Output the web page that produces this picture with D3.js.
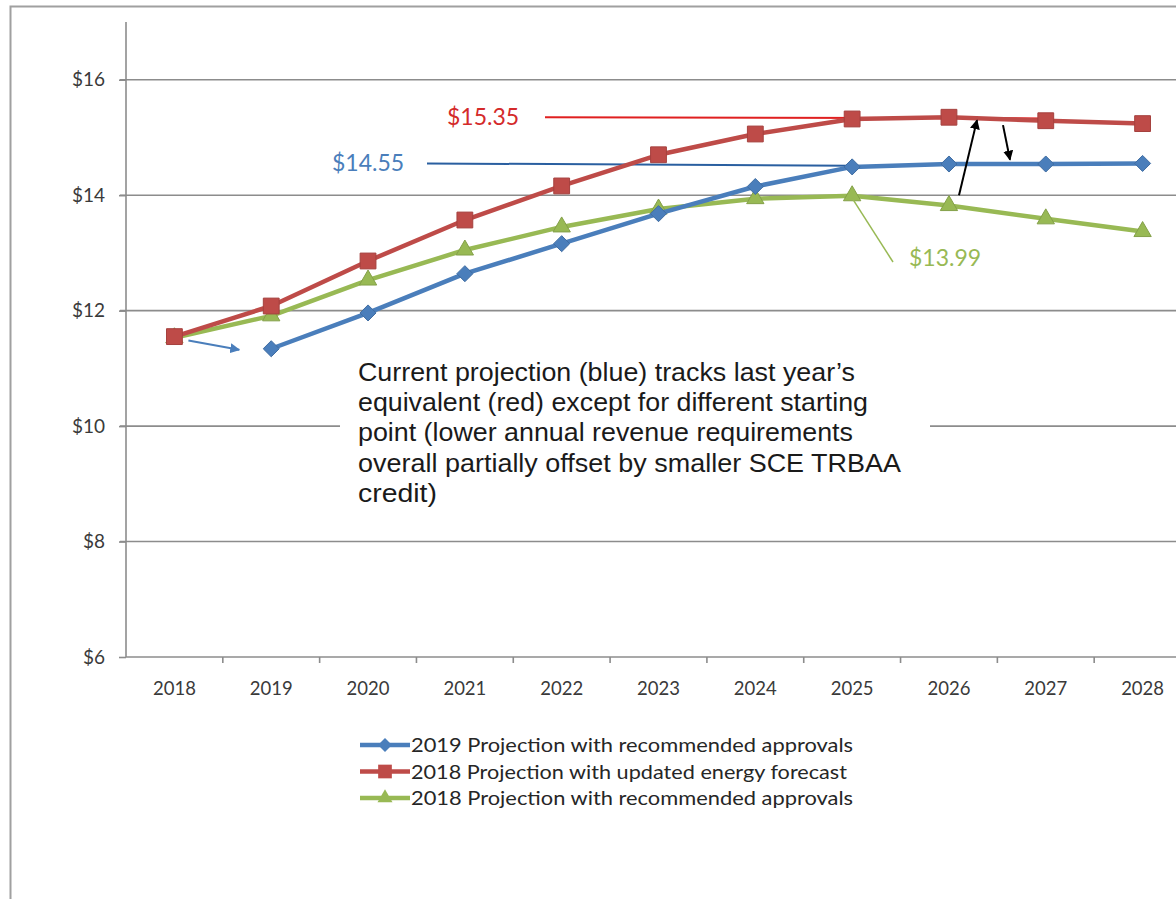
<!DOCTYPE html>
<html><head><meta charset="utf-8">
<script src="https://cdn.jsdelivr.net/npm/d3@7"></script>
<style>body{margin:0;background:#fff}svg{display:block}</style>
</head><body>
<svg id="chart" width="1176" height="899"></svg>
<script>
const years = ["2018","2019","2020","2021","2022","2023","2024","2025","2026","2027","2028"];
const blue2019 = [null,11.34,11.96,12.64,13.16,13.68,14.15,14.49,14.54,14.54,14.55];
const red2018 = [11.55,12.08,12.86,13.57,14.16,14.70,15.06,15.32,15.35,15.29,15.24];
const green2018 = [11.53,11.91,12.53,13.05,13.45,13.76,13.94,13.99,13.82,13.59,13.37];
const seriesNames = ["2019 Projection with recommended approvals","2018 Projection with updated energy forecast","2018 Projection with recommended approvals"];
const yTicks = [6,8,10,12,14,16];
const noteLines = ["Current projection (blue) tracks last year\u2019s","equivalent  (red) except for different starting","point (lower annual  revenue requirements","overall partially  offset by smaller SCE TRBAA","credit)"];

const svg = d3.select("#chart");
const C = {blue:"#4a7ebb", red:"#be4b48", green:"#98b954"};
const x = d3.scaleBand().domain(years).range([126,1191]);
const y = d3.scaleLinear().domain([6,17]).range([657,22]);
const cx = d => x(d) + x.bandwidth()/2;
const font = "Lato, 'Open Sans', sans-serif";

// outer border
svg.append("rect").attr("x",10.5).attr("y",6.5).attr("width",1200).attr("height",1000)
  .attr("fill","none").attr("stroke","#a0a0a0").attr("stroke-width",2);

// gridlines
svg.append("g").selectAll("line").data(yTicks.filter(t=>t>6)).join("line")
  .attr("x1",120).attr("x2",1176).attr("y1",d=>y(d)).attr("y2",d=>y(d))
  .attr("stroke","#8c8c8c").attr("stroke-width",1.6);

// y axis
const ya = svg.append("g").attr("transform","translate(126,0)")
  .call(d3.axisLeft(y).tickValues(yTicks).tickSize(7).tickFormat(d=>"$"+d));
ya.select(".domain").attr("d","M0,"+y(17)+"V"+y(6)).attr("stroke","#8c8c8c").attr("stroke-width",1.6);
ya.selectAll(".tick line").attr("stroke","#8c8c8c").attr("stroke-width",1.6);
ya.selectAll("text").attr("font-family",font).attr("font-size",19).attr("fill","#3a3a3a").attr("x",-21);

// x axis
const xa = svg.append("g").attr("transform","translate(0,"+y(6)+")")
  .call(d3.axisBottom(x).tickSize(0));
xa.select(".domain").attr("d","M126,0H1176").attr("stroke","#8c8c8c").attr("stroke-width",1.6);
xa.selectAll("text").attr("font-family",font).attr("font-size",18.5).attr("fill","#3a3a3a").attr("y",38).attr("dy",0);
svg.append("g").selectAll("line").data(years.slice(1)).join("line")
  .attr("x1",d=>x(d)).attr("x2",d=>x(d)).attr("y1",y(6)).attr("y2",y(6)+6)
  .attr("stroke","#8c8c8c").attr("stroke-width",1.6);

// annotation reference lines
svg.append("line").attr("x1",545).attr("x2",cx("2027")).attr("y1",y(15.35)).attr("y2",y(15.33))
  .attr("stroke","#e02020").attr("stroke-width",2);
svg.append("line").attr("x1",427).attr("x2",cx("2025")).attr("y1",y(14.55)).attr("y2",y(14.51))
  .attr("stroke","#2a5fa0").attr("stroke-width",2);

// series
const diamond = {draw(ctx,size){const r=Math.sqrt(size)/2*1.25;ctx.moveTo(0,-r);ctx.lineTo(r,0);ctx.lineTo(0,r);ctx.lineTo(-r,0);ctx.closePath();}};
const series = [
  {vals:blue2019, color:C.blue, shape:diamond, size:165},
  {vals:red2018, color:C.red, shape:d3.symbolSquare, size:250},
  {vals:green2018, color:C.green, shape:d3.symbolTriangle, size:130}
];
const line = d3.line().defined(d=>d.v!=null).x(d=>cx(d.yr)).y(d=>y(d.v));
[2,0,1].forEach(i=>{
  const s = series[i];
  const pts = years.map((yr,j)=>({yr, v:s.vals[j]}));
  svg.append("path").datum(pts).attr("d",line).attr("fill","none")
    .attr("stroke",s.color).attr("stroke-width",4.5).attr("stroke-linejoin","round");
  svg.append("g").selectAll("path").data(pts.filter(d=>d.v!=null)).join("path")
    .attr("transform",d=>`translate(${cx(d.yr)},${y(d.v)})`)
    .attr("d",d3.symbol().type(s.shape).size(s.size))
    .attr("fill",s.color).attr("stroke",d3.color(s.color).darker(0.4)).attr("stroke-width",1);
});

// arrow markers
const defs = svg.append("defs");
function marker(id,color){
  defs.append("marker").attr("id",id).attr("viewBox","0 0 10 10").attr("refX",9).attr("refY",5)
    .attr("markerWidth",5).attr("markerHeight",5).attr("orient","auto")
    .append("path").attr("d","M0,0L10,5L0,10Z").attr("fill",color);
}
marker("ab","#4a7ebb"); marker("ak","#000");
svg.append("line").attr("x1",cx("2018")+14).attr("y1",y(11.5)+1).attr("x2",cx("2019")-32).attr("y2",y(11.34)+1)
  .attr("stroke","#4a7ebb").attr("stroke-width",2).attr("marker-end","url(#ab)");
svg.append("line").attr("x1",959).attr("y1",y(14.0)).attr("x2",977).attr("y2",y(15.3))
  .attr("stroke","#000").attr("stroke-width",2).attr("marker-end","url(#ak)");
svg.append("line").attr("x1",1003).attr("y1",y(15.3)+5).attr("x2",1010).attr("y2",y(14.58)-2)
  .attr("stroke","#000").attr("stroke-width",2).attr("marker-end","url(#ak)");
// green leader
svg.append("line").attr("x1",cx("2025")).attr("y1",y(13.95)).attr("x2",893).attr("y2",262)
  .attr("stroke","#98b954").attr("stroke-width",1.5);

// value labels
svg.append("text").attr("x",447).attr("y",y(15.35)+8).text("$15.35").attr("font-family",font).attr("font-size",23).attr("fill","#d42a2a");
svg.append("text").attr("x",332).attr("y",y(14.55)+8).text("$14.55").attr("font-family",font).attr("font-size",23).attr("fill","#4a7ebb");
svg.append("text").attr("x",909).attr("y",266).text("$13.99").attr("font-family",font).attr("font-size",23).attr("fill","#98b954");

// note box
const noteWidths = [497,510,495,543,79];
svg.append("rect").attr("x",340).attr("y",352).attr("width",590).attr("height",170).attr("fill","#fff");
svg.append("g").selectAll("text").data(noteLines).join("text")
  .attr("x",358).attr("y",(d,i)=>381+i*30.2).text(d=>d)
  .attr("textLength",(d,i)=>noteWidths[i]).attr("lengthAdjust","spacingAndGlyphs")
  .attr("font-family","'Liberation Sans', Arial, sans-serif").attr("font-size",25).attr("fill","#1a1a1a");

// legend
const legendWidths = [442,436,442];
const lg = svg.append("g");
series.forEach((s,i)=>{
  const ly = 745 + i*26.5;
  lg.append("line").attr("x1",360).attr("x2",410).attr("y1",ly).attr("y2",ly).attr("stroke",s.color).attr("stroke-width",4.5);
  lg.append("path").attr("transform",`translate(385,${ly})`).attr("d",d3.symbol().type(s.shape).size(s.size*0.75)).attr("fill",s.color);
  lg.append("text").attr("x",411).attr("y",ly+7).text(seriesNames[i])
    .attr("textLength",legendWidths[i]).attr("lengthAdjust","spacingAndGlyphs")
    .attr("font-family",font).attr("font-size",20).attr("fill","#262626");
});
</script>
</body></html>
